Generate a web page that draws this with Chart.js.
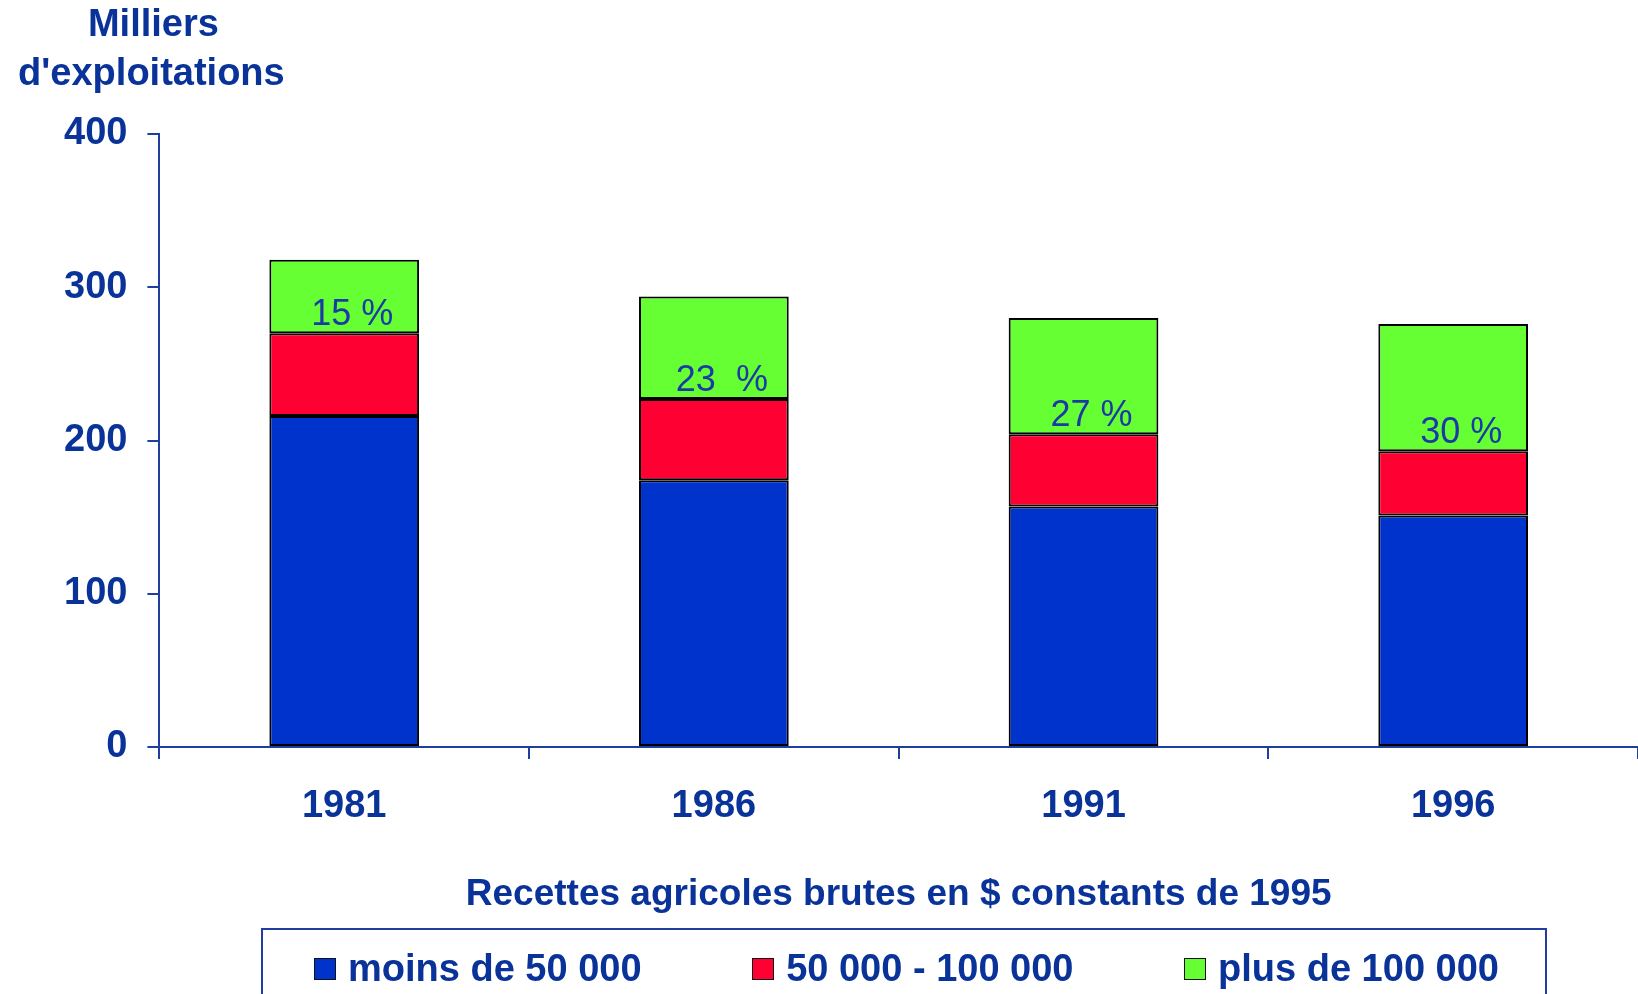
<!DOCTYPE html>
<html lang="fr">
<head>
<meta charset="utf-8">
<script src="https://cdn.jsdelivr.net/npm/chart.js@4.4.1/dist/chart.umd.min.js"></script>
<style>
  html, body { margin: 0; padding: 0; background: #fff; overflow: hidden; }
  #cadre { position: relative; width: 1638px; height: 994px; }
  #legende {
    position: absolute; left: 261px; top: 928px; width: 1286px; height: 100px;
    border: 2px solid #1f3f9f; box-sizing: border-box;
    display: flex; justify-content: space-between; align-items: flex-start;
    padding: 17px 46px 0 51px;
    font: bold 38px "Liberation Sans", Arial, sans-serif; color: #0a3399;
  }
  .item { display: flex; align-items: center; white-space: nowrap; }
  .carre { width: 20px; height: 20px; border: 1.5px solid #111; margin-right: 12px; }
</style>
</head>
<body>
<div id="cadre">
  <canvas id="graphique" width="1638" height="994"></canvas>
  <div id="legende"></div>
</div>
<script>
const annees = ["1981", "1986", "1991", "1996"];
const moins50 = [216, 174, 157, 151];
const entre50et100 = [54, 53, 47, 42];
const plus100 = [48, 67, 76, 83];
const partPlus100 = ["15 %", "23  %", "27 %", "30 %"];
const nomsSeries = ["moins de 50 000", "50 000 - 100 000", "plus de 100 000"];
const couleurs = ["#0033cc", "#ff0033", "#66ff33"];
const titreY = ["Milliers", "d'exploitations"];
const titreX = "Recettes agricoles brutes en $ constants de 1995";

const bleuTexte = "#0a3399";
const bleuAxe = "#1f3f9f";
const police = "'Liberation Sans', Arial, sans-serif";

const titreAxeY = {
  id: "titreAxeY",
  afterDraw(chart){
    const ctx = chart.ctx;
    const x = chart.chartArea.left - 8;
    ctx.save();
    ctx.font = "bold 38px " + police;
    ctx.fillStyle = bleuTexte;
    ctx.textAlign = "center";
    ctx.textBaseline = "middle";
    ctx.fillText(titreY[0], x + 2, chart.chartArea.top - 108);
    ctx.fillText(titreY[1], x, chart.chartArea.top - 59);
    ctx.restore();
  }
};

const etiquettesPart = {
  id: "etiquettesPart",
  afterDatasetsDraw(chart){
    const ctx = chart.ctx;
    const meta = chart.getDatasetMeta(2);
    ctx.save();
    ctx.font = "36px " + police;
    ctx.fillStyle = "#1a3aa6";
    ctx.textAlign = "center";
    ctx.textBaseline = "middle";
    meta.data.forEach((barre, i) => {
      ctx.fillText(partPlus100[i], barre.x + 8, barre.base - 18);
    });
    ctx.restore();
  }
};

const series = [moins50, entre50et100, plus100];

new Chart(document.getElementById("graphique"), {
  type: "bar",
  data: {
    labels: annees,
    datasets: series.map((d, i) => ({
      label: nomsSeries[i],
      data: d,
      backgroundColor: couleurs[i],
      borderColor: "#000",
      borderWidth: 2,
      borderSkipped: false,
      categoryPercentage: 1,
      barPercentage: 0.405
    }))
  },
  options: {
    responsive: false,
    animation: false,
    layout: { padding: { top: 134, left: 44, right: 0, bottom: 77 } },
    plugins: {
      legend: { display: false },
      tooltip: { enabled: false }
    },
    scales: {
      x: {
        stacked: true,
        grid: { drawOnChartArea: false, tickLength: 12, color: bleuAxe, lineWidth: 2, offset: true },
        border: { color: bleuAxe, width: 2 },
        ticks: { color: bleuTexte, font: { family: police, size: 38, weight: "bold" }, padding: 25, maxRotation: 0, autoSkip: false },
        title: {
          display: true, text: titreX, color: bleuTexte,
          font: { family: police, size: 37, weight: "bold" },
          padding: { top: 18, bottom: 0 }
        }
      },
      y: {
        stacked: true,
        min: 0, max: 400,
        grid: { drawOnChartArea: false, tickLength: 12, color: bleuAxe, lineWidth: 2 },
        border: { color: bleuAxe, width: 2 },
        ticks: { stepSize: 100, color: bleuTexte, font: { family: police, size: 38, weight: "bold" }, padding: 20 }
      }
    }
  },
  plugins: [titreAxeY, etiquettesPart]
});

const legende = document.getElementById("legende");
nomsSeries.forEach((nom, i) => {
  const item = document.createElement("div");
  item.className = "item";
  const carre = document.createElement("span");
  carre.className = "carre";
  carre.style.background = couleurs[i];
  item.appendChild(carre);
  item.appendChild(document.createTextNode(nom));
  legende.appendChild(item);
});
</script>
</body>
</html>
